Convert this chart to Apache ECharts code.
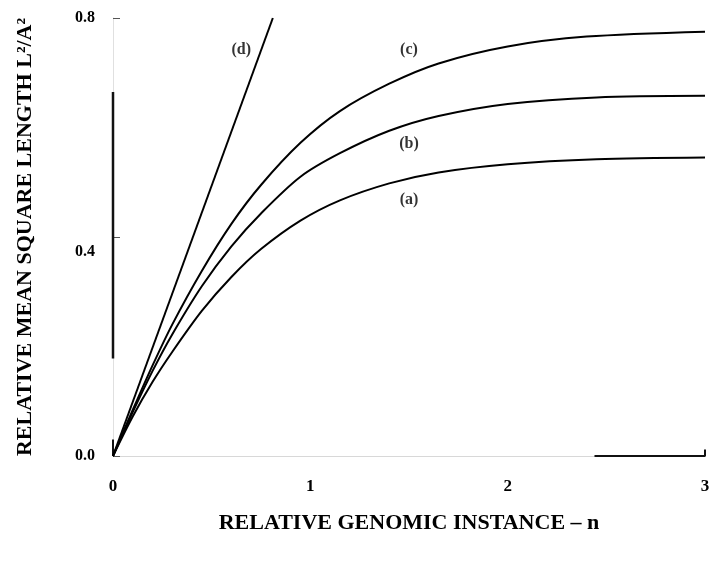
<!DOCTYPE html>
<html>
<head>
<meta charset="utf-8">
<script src="https://cdn.jsdelivr.net/npm/echarts@6/dist/echarts.min.js"></script>
<style>html,body{margin:0;padding:0;background:#fff}#c{width:715px;height:561px}</style>
</head>
<body>
<div id="c"></div>
<script>
// Tick labels
var xTickLabels = ['0', '1', '2', '3'];
var yTickLabels = ['0.0', '0.4', '0.8'];

// Curves [n, L^2/A^2]
var curveA = [[0,0],[0.1,0.072],[0.2,0.135],[0.3,0.19],[0.45,0.265],[0.6,0.327],[0.75,0.378],[0.95,0.43],[1.15,0.467],[1.4,0.498],[1.65,0.518],[2.0,0.533],[2.45,0.542],[3,0.545]];
var curveB = [[0,0],[0.1,0.08],[0.2,0.155],[0.3,0.222],[0.45,0.31],[0.6,0.383],[0.75,0.443],[0.95,0.51],[1.15,0.553],[1.4,0.594],[1.65,0.621],[2.0,0.643],[2.45,0.655],[3,0.658]];
var curveC = [[0,0],[0.1,0.084],[0.2,0.165],[0.3,0.24],[0.45,0.338],[0.6,0.424],[0.75,0.495],[0.95,0.572],[1.15,0.63],[1.4,0.68],[1.65,0.717],[2.0,0.748],[2.4,0.766],[3,0.775]];
var lineD = [[0,0],[0.81,0.8]];

// Curve labels
var curveLabelNames = ['(d)', '(c)', '(b)', '(a)'];
var curveLabelPos = [[0.65,0.742],[1.5,0.742],[1.5,0.570],[1.5,0.468]];

// Visible (scanned) axis segments
var yAxisTrace = [[0,0],[0,0.03]];
var yAxisTrace2 = [[0,0.178],[0,0.665]];
var xAxisTrace = [[2.44,0],[3,0],[3,0.012]];

var serif = '"Liberation Serif","DejaVu Serif",serif';
var chart = echarts.init(document.getElementById('c'));

function curve(name, data) {
  return {
    name: name, type: 'line', data: data, smooth: 0.3,
    showSymbol: false, symbol: 'none',
    lineStyle: { color: '#000', width: 2 }, z: 3
  };
}
function trace(data, w) {
  return {
    type: 'line', data: data, showSymbol: false, symbol: 'none',
    lineStyle: { color: '#111', width: w }, z: 2, silent: true
  };
}

chart.setOption({
  animation: false,
  backgroundColor: '#fff',
  grid: { left: 113, right: 10, top: 18, bottom: 105 },
  xAxis: {
    type: 'value', min: 0, max: 3, interval: 1,
    name: 'RELATIVE GENOMIC INSTANCE \u2013 n',
    nameLocation: 'middle', nameGap: 56,
    nameTextStyle: { fontFamily: serif, fontWeight: 'bold', fontSize: 22, color: '#000' },
    axisLine: { show: true, lineStyle: { color: '#d8d8d8', width: 1 } },
    axisTick: { show: false },
    splitLine: { show: false },
    axisLabel: {
      margin: 22, fontFamily: serif, fontWeight: 'bold', fontSize: 17, color: '#000',
      formatter: function (v) { return xTickLabels[Math.round(v)]; }
    }
  },
  yAxis: {
    type: 'value', min: 0, max: 0.8, interval: 0.4,
    name: 'RELATIVE MEAN SQUARE LENGTH L\u00B2/A\u00B2',
    nameLocation: 'middle', nameGap: 77,
    nameTextStyle: { fontFamily: serif, fontWeight: 'bold', fontSize: 22, color: '#000' },
    axisLine: { show: true, lineStyle: { color: '#e0e0e0', width: 1 } },
    axisTick: { show: true, inside: true, length: 7, lineStyle: { color: '#555' } },
    splitLine: { show: false },
    axisLabel: {
      margin: 18, fontFamily: serif, fontWeight: 'bold', fontSize: 16, color: '#000',
      formatter: function (v) {
        var i = Math.round(v / 0.4);
        return i === 1 ? '{mid|' + yTickLabels[i] + '}' : yTickLabels[i];
      },
      rich: { mid: { fontFamily: serif, fontWeight: 'bold', fontSize: 16, color: '#000', padding: [30, 0, 0, 0] } }
    }
  },
  series: [
    curve('(a)', curveA),
    curve('(b)', curveB),
    curve('(c)', curveC),
    curve('(d)', lineD),
    trace(yAxisTrace, 2),
    trace(yAxisTrace2, 2.5),
    trace(xAxisTrace, 2),
    {
      type: 'scatter', symbolSize: 0, silent: true,
      data: curveLabelPos.map(function (p, i) { return { value: p, name: curveLabelNames[i] }; }),
      label: {
        show: true, position: 'inside', formatter: '{b}',
        fontFamily: serif, fontWeight: 'bold', fontSize: 16, color: '#000'
      }
    }
  ]
});
</script>
</body>
</html>
